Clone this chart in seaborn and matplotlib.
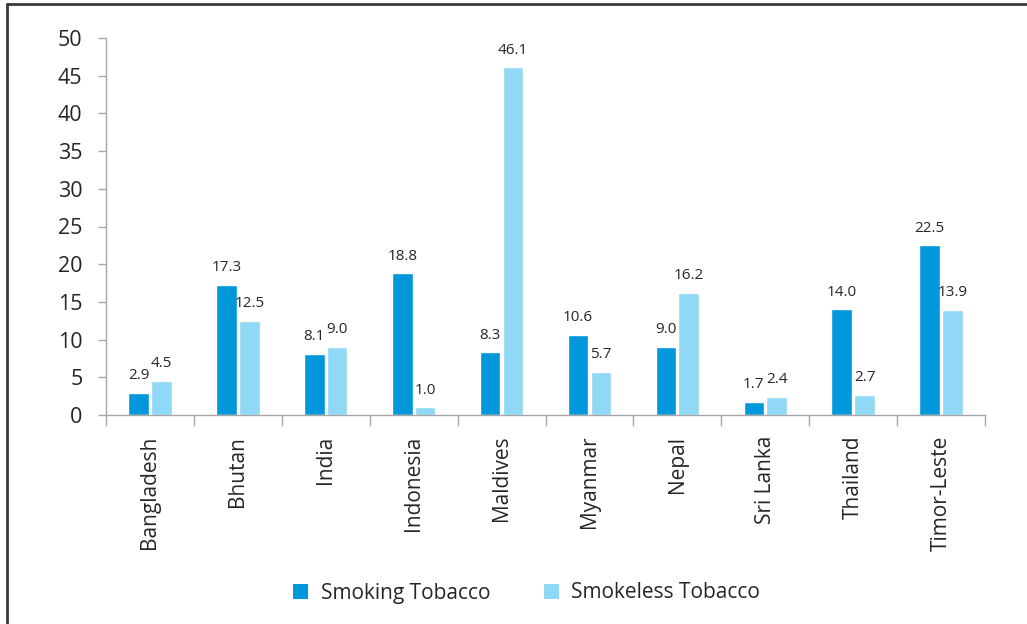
import matplotlib
matplotlib.use("Agg")
import matplotlib.pyplot as plt
import seaborn as sns
import pandas as pd
import numpy as np
from matplotlib.lines import Line2D
from matplotlib.patches import Patch
from matplotlib import font_manager

countries = ["Bangladesh", "Bhutan", "India", "Indonesia", "Maldives",
             "Myanmar", "Nepal", "Sri Lanka", "Thailand", "Timor-Leste"]
smoking = [2.9, 17.3, 8.1, 18.8, 8.3, 10.6, 9.0, 1.7, 14.0, 22.5]
smokeless = [4.5, 12.5, 9.0, 1.0, 46.1, 5.7, 16.2, 2.4, 2.7, 13.9]
series = ["Smoking Tobacco", "Smokeless Tobacco"]
colors = ["#0098DA", "#8FD8F6"]
yticks = [0, 5, 10, 15, 20, 25, 30, 35, 40, 45, 50]

df = pd.DataFrame({
    "country": countries * 2,
    "series": [series[0]] * len(countries) + [series[1]] * len(countries),
    "value": smoking + smokeless,
})

sns.set_theme(style="white")
plt.rcParams["font.family"] = ["Open Sans", "DejaVu Sans"]

installed = {f.name for f in font_manager.fontManager.ttflist}
if "Liberation Sans Narrow" in installed:
    label_family = ["Liberation Sans Narrow"]
    label_size = 13
else:
    label_family = ["Open Sans"]
    label_size = 11

fig = plt.figure(figsize=(10.27, 6.24), dpi=100)
ax = fig.add_axes([106/1027, 1 - 415/624, (985 - 106)/1027, (415 - 38)/624])

sns.barplot(data=df, x="country", y="value", hue="series", palette=colors,
            width=0.52, gap=0.1, ax=ax, legend=False, saturation=1)

text_color = "#262626"
for cont in ax.containers:
    labels = [f"{v:.1f}" for v in cont.datavalues]
    ax.bar_label(cont, labels=labels, padding=7, fontsize=label_size,
                 color=text_color, family=label_family)

ax.set_ylim(0, 50)
ax.set_yticks(yticks)
ax.set_xlim(-0.5, len(countries) - 0.5)
ax.set_xlabel("")
ax.set_ylabel("")
ax.set_xticks(range(len(countries)))
ax.set_xticklabels(countries, rotation=90, fontsize=15, color=text_color)
ax.set_xticks(np.arange(-0.5, len(countries), 1.0), minor=True)
ax.tick_params(axis="x", which="major", length=0, pad=15)
ax.tick_params(axis="x", which="minor", length=8, width=1, color="#A6A6A6", bottom=True)
ax.tick_params(axis="y", which="major", length=6, width=1, color="#A6A6A6",
               left=True, labelsize=15.5, labelcolor=text_color, pad=11)

for s in ["top", "right"]:
    ax.spines[s].set_visible(False)
for s in ["left", "bottom"]:
    ax.spines[s].set_color("#A6A6A6")
    ax.spines[s].set_linewidth(1)

handles = [Patch(facecolor=c, edgecolor="none") for c in colors]
fig.legend(handles, series, loc="center", bbox_to_anchor=(0.513, 1 - 593/624),
           ncol=2, frameon=False, fontsize=15, handlelength=0.7, handleheight=0.7,
           columnspacing=2.6, handletextpad=0.6, labelcolor=text_color)

fig.add_artist(Line2D([7/1027, 7/1027], [0, 1 - 4/624], transform=fig.transFigure,
                      color="#3a3a3a", linewidth=2))
fig.add_artist(Line2D([7/1027, 1], [1 - 4/624, 1 - 4/624], transform=fig.transFigure,
                      color="#3a3a3a", linewidth=2))

fig.savefig("out.png", dpi=100)
